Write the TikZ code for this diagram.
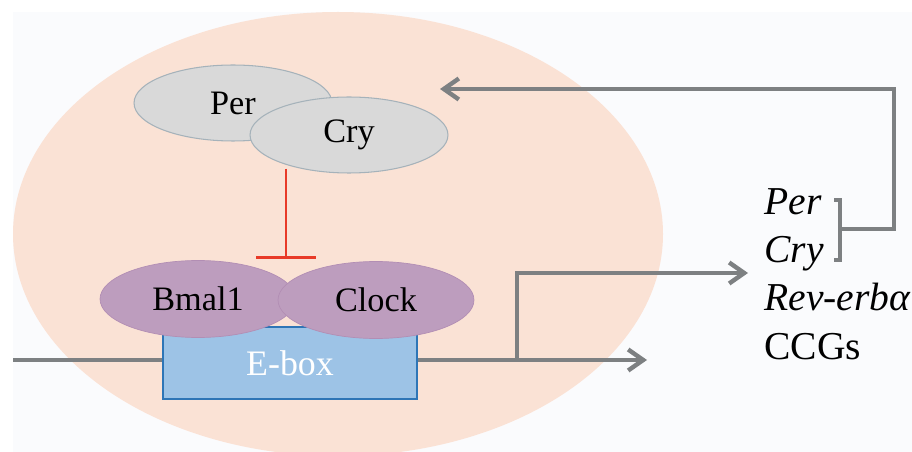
\documentclass[tikz,border=0pt]{standalone}
\usepackage{fontspec}
\setmainfont{Liberation Serif}
\usetikzlibrary{shapes.geometric,arrows.meta}
\definecolor{paper}{RGB}{250,251,253}
\definecolor{nucleus}{RGB}{250,226,213}
\definecolor{pcfill}{RGB}{217,217,217}
\definecolor{pcline}{RGB}{165,178,186}
\definecolor{bcfill}{RGB}{189,157,190}
\definecolor{bcline}{RGB}{178,142,180}
\definecolor{eboxfill}{RGB}{157,195,230}
\definecolor{eboxline}{RGB}{46,117,182}
\definecolor{wiregray}{RGB}{125,128,130}
\definecolor{blockred}{RGB}{232,58,40}

\begin{document}
\begin{tikzpicture}[x=0.02cm,y=-0.02cm]
\tikzstyle{protein}=[ellipse, draw=pcline, fill=pcfill, line width=0.6pt, minimum width=3.96cm, minimum height=1.52cm, inner sep=0pt, font=\fontsize{19.5}{19.5}\selectfont]
\tikzstyle{complex}=[ellipse, draw=bcline, fill=bcfill, line width=0.4pt, minimum width=3.92cm, minimum height=1.54cm, inner sep=0pt, font=\fontsize{19.5}{19.5}\selectfont]
\tikzstyle{gene}=[anchor=base west, inner sep=0pt, font=\fontsize{22.5}{22.5}\selectfont]
\tikzstyle{wire}=[draw=wiregray, line width=2.5pt]
\tikzstyle{arr}=[-{Straight Barb[length=3mm,width=4.2mm]}]
\tikzstyle{inhibit}=[draw=blockred, line width=1.7pt, -{Bar[width=1.2cm]}]

\useasboundingbox (0,0) rectangle (912,452);
\clip (0,0) rectangle (912,452);
\fill[paper] (13,12) rectangle (912,452);
% nucleus
\fill[nucleus] (338,234) ellipse [x radius=325, y radius=222];

% Per/Cry dimer
\node[protein] (per) at (233,103) {Per};
\node[protein] (cry) at (349,135) {Cry};

% promoter
\coordinate (dna) at (13,360);
\coordinate (fork) at (517,360);
\coordinate (out) at (647,360);
\draw[wire] (dna) -- (300,360);
\draw[wire,arr] (fork -| 300,0) -- (out);
\node[draw=eboxline, fill=eboxfill, line width=0.8pt, minimum width=5.08cm, minimum height=1.44cm, text=white, font=\fontsize{20.4}{20.4}\selectfont] (ebox) at (290,363) {E-box};

% Bmal1/Clock dimer
\node[complex] (bmal) at (198,299) {Bmal1};
\node[complex] (clock) at (376,300) {Clock};

\coordinate (hit) at (286,259);
\draw[inhibit] (cry.south -| hit) ++(0,-5) -- (hit);

% target genes
\foreach \name/\txt [count=\i from 0] in {gper/\textit{Per}, gcry/\textit{Cry}, grev/\textit{Rev-erbα}, gccg/CCGs}
  \node[gene] (\name) at (764,215+48*\i) {\txt};

\coordinate (into) at (748,273);
\draw[wire,arr] (fork) |- (into);

% feedback
\coordinate (brk) at (840,229);
\coordinate (back) at (440,89);
\draw[wire,line width=2pt] (834,200) -- (840,200) -- (840,260) -- (834,260);
\draw[wire,arr] (brk) -- ++(54,0) |- (back);

\end{tikzpicture}
\end{document}
